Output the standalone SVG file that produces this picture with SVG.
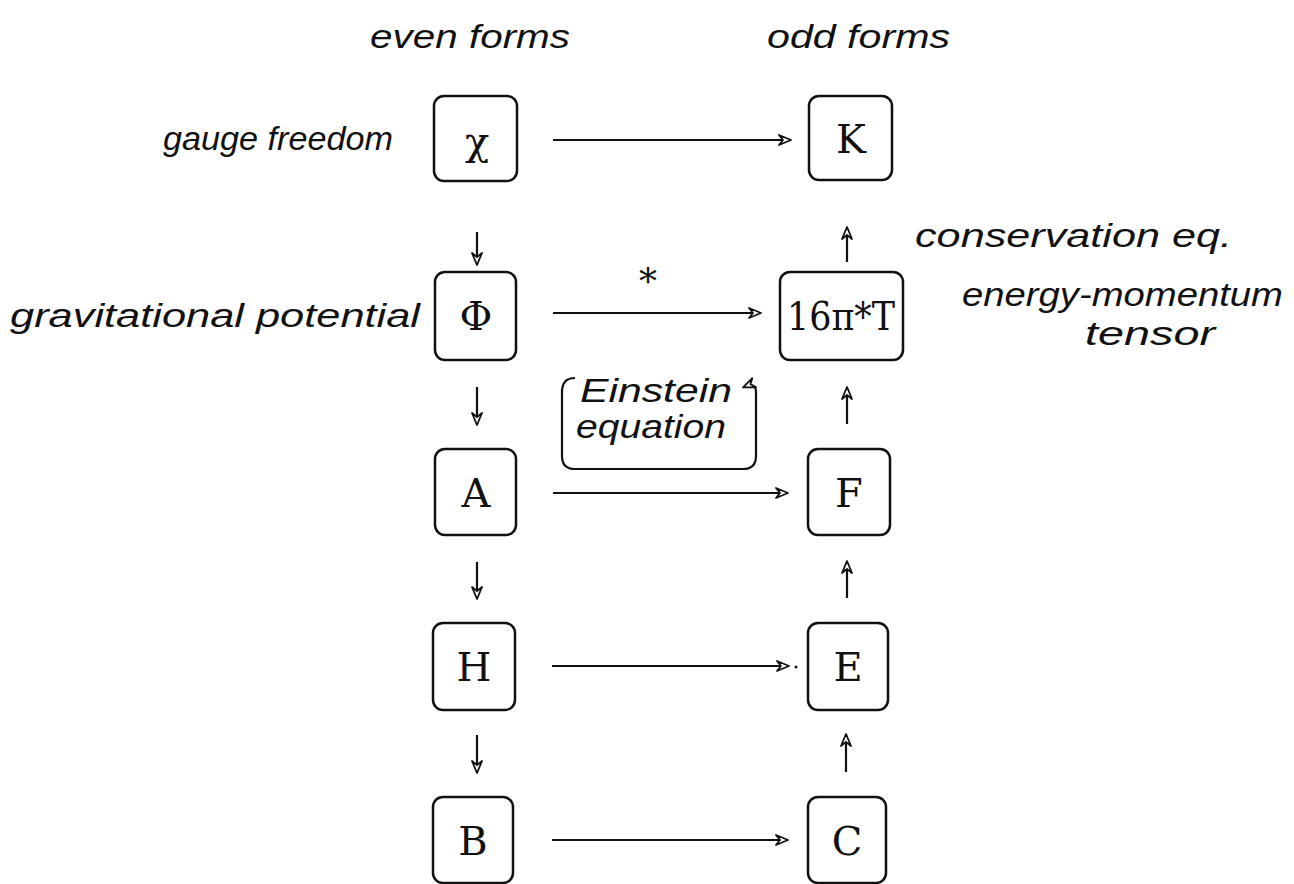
<svg xmlns="http://www.w3.org/2000/svg" width="1294" height="884" viewBox="0 0 1294 884">
<style>
.box{fill:none;stroke:#111;stroke-width:2.5}
.lbl{font-family:"DejaVu Serif","Liberation Serif",serif;font-size:40px;fill:#111;text-anchor:middle}
.it{font-family:"Liberation Sans",Arial,sans-serif;font-style:italic;font-size:33px;fill:#111}
.c{fill:none;stroke:#111;stroke-width:2.2}
</style>
<defs>
<marker id="ah" markerWidth="14" markerHeight="12" refX="12" refY="6" orient="auto" markerUnits="userSpaceOnUse">
<path d="M1,1 L13,6 L1,11 L5,6 Z" fill="#fff" stroke="#111" stroke-width="1.8" stroke-linejoin="round"/>
</marker>
</defs>
<rect width="1294" height="884" fill="#fff"/>
<text class="it" x="370" y="48" textLength="200" lengthAdjust="spacingAndGlyphs">even forms</text>
<text class="it" x="767" y="48" textLength="183" lengthAdjust="spacingAndGlyphs">odd forms</text>
<text class="it" x="163" y="150" textLength="230" lengthAdjust="spacingAndGlyphs">gauge freedom</text>
<text class="it" x="10" y="327" textLength="410" lengthAdjust="spacingAndGlyphs">gravitational potential</text>
<text class="it" x="915" y="247" textLength="317" lengthAdjust="spacingAndGlyphs">conservation eq.</text>
<text class="it" x="962" y="306" textLength="321" lengthAdjust="spacingAndGlyphs">energy-momentum</text>
<text class="it" x="1085" y="345" textLength="130" lengthAdjust="spacingAndGlyphs">tensor</text>
<g id="n-chi"><rect class="box" x="434" y="96" width="83" height="85" rx="10"/><text class="lbl" x="477" y="155">χ</text></g>
<g id="n-K"><rect class="box" x="809" y="96" width="83" height="84" rx="10"/><text class="lbl" x="851" y="153">K</text></g>
<g id="n-Phi"><rect class="box" x="435" y="272" width="81" height="88" rx="10"/><text class="lbl" x="476" y="330">Φ</text></g>
<g id="n-T"><rect class="box" x="780" y="272" width="123" height="88" rx="10"/><text class="lbl" x="841" y="330" textLength="108" lengthAdjust="spacingAndGlyphs">16π*T</text></g>
<g id="n-A"><rect class="box" x="435" y="449" width="81" height="86" rx="10"/><text class="lbl" x="476" y="507">A</text></g>
<g id="n-F"><rect class="box" x="808" y="449" width="82" height="86" rx="10"/><text class="lbl" x="849" y="507">F</text></g>
<g id="n-H"><rect class="box" x="433" y="623" width="82" height="87" rx="10"/><text class="lbl" x="474" y="681">H</text></g>
<g id="n-E"><rect class="box" x="808" y="623" width="80" height="87" rx="10"/><text class="lbl" x="848" y="681">E</text></g>
<g id="n-B"><rect class="box" x="433" y="797" width="80" height="86" rx="10"/><text class="lbl" x="473" y="855">B</text></g>
<g id="n-C"><rect class="box" x="808" y="797" width="78" height="86" rx="10"/><text class="lbl" x="847" y="855">C</text></g>
<g id="n-einstein">
<path class="c" d="M575,378 Q562,378 562,392 L562,456 Q562,469 575,469 L743,469 Q756,469 756,456 L756,392 Q756,382 744,387" marker-end="url(#ah)"/>
<text class="it" x="580" y="402" textLength="152" lengthAdjust="spacingAndGlyphs">Einstein</text>
<text class="it" x="576" y="438" textLength="150" lengthAdjust="spacingAndGlyphs">equation</text>
</g>
<g id="connectors">
<line class="c" x1="553" y1="140" x2="790" y2="140" marker-end="url(#ah)"/>
<line class="c" x1="553" y1="313" x2="760" y2="313" marker-end="url(#ah)"/>
<text class="lbl" x="648" y="294" style="font-size:36px">*</text>
<line class="c" x1="553" y1="493" x2="787" y2="493" marker-end="url(#ah)"/>
<line class="c" x1="552" y1="666" x2="788" y2="666" marker-end="url(#ah)"/>
<circle cx="796" cy="667" r="1.5" fill="#111"/>
<line class="c" x1="552" y1="840" x2="787" y2="840" marker-end="url(#ah)"/>
<line class="c" x1="477" y1="232" x2="477" y2="264" marker-end="url(#ah)"/>
<line class="c" x1="477" y1="387" x2="477" y2="424" marker-end="url(#ah)"/>
<line class="c" x1="477" y1="562" x2="477" y2="598" marker-end="url(#ah)"/>
<line class="c" x1="477" y1="735" x2="477" y2="772" marker-end="url(#ah)"/>
<line class="c" x1="847" y1="262" x2="847" y2="228" marker-end="url(#ah)"/>
<line class="c" x1="847" y1="424" x2="847" y2="388" marker-end="url(#ah)"/>
<line class="c" x1="847" y1="598" x2="847" y2="562" marker-end="url(#ah)"/>
<line class="c" x1="846" y1="772" x2="846" y2="735" marker-end="url(#ah)"/>
</g>
</svg>
